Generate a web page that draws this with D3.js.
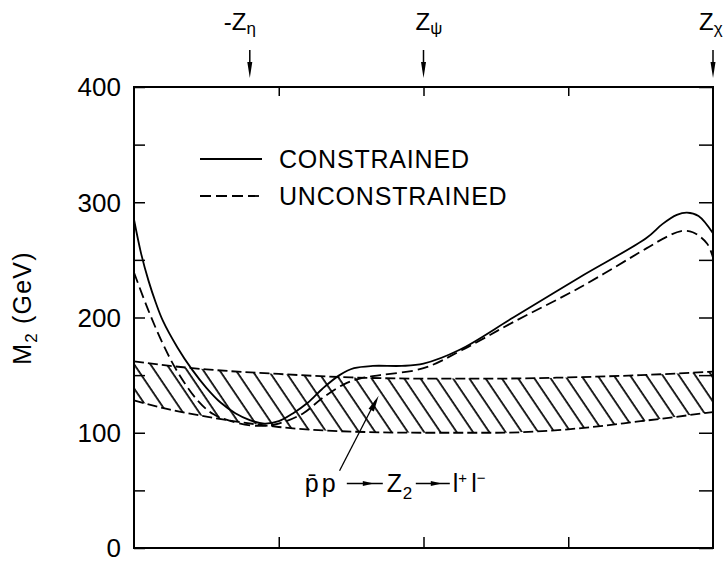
<!DOCTYPE html>
<html>
<head>
<meta charset="utf-8">
<script src="https://cdn.jsdelivr.net/npm/d3@7"></script>
<style>
  body { margin: 0; background: #fff; }
  svg text { font-family: "Liberation Sans", Arial, sans-serif; fill: #000; }
</style>
</head>
<body>
<script>
// values (x in arbitrary mixing-angle units 0..4, y in GeV)
var constrainedX = [0, 0.05, 0.1, 0.15, 0.2, 0.3, 0.4, 0.5, 0.6, 0.7, 0.8, 0.9, 1.0, 1.1, 1.2, 1.3, 1.42, 1.52, 1.65, 1.85, 2.0, 2.25, 2.62, 3.08, 3.54, 3.65, 3.75, 3.82, 3.9, 4.0];
var constrainedY = [285, 255, 232, 213, 197, 174, 155, 139, 126, 117, 111, 108, 110, 117, 126, 138, 150, 156, 158, 158, 160, 172, 200, 235, 269, 281, 289, 291, 288, 273];

var unconstrainedX = [0, 0.1, 0.2, 0.3, 0.44, 0.55, 0.7, 0.85, 1.0, 1.17, 1.3, 1.45, 1.56, 1.7, 2.0, 2.27, 2.62, 3.08, 3.54, 3.68, 3.78, 3.86, 3.96, 4.0];
var unconstrainedY = [239, 206, 177, 153, 128, 116, 109, 106, 108, 117, 130, 142, 147, 150, 156, 172, 196, 226, 260, 270, 275, 274, 264, 252];

var bandX = [0, 0.25, 0.5, 1.0, 1.5, 2.0, 2.5, 3.0, 3.5, 4.0];
var bandUpper = [162, 158, 155, 151, 148, 147, 147, 148, 150, 153];
var bandLower = [128, 120, 114, 105, 101, 100, 100, 103, 110, 118];

var yTicks = [0, 100, 200, 300, 400];
var yMinorTicks = [0, 50, 100, 150, 200, 250, 300, 350, 400];
var xTicks = [1, 2, 3];

var markerPos = [0.8, 2.0, 4.0];
var markerMain = ["-Z", "Z", "Z"];
var markerSub = ["\u03b7", "\u03c8", "\u03c7"];

var legendLabels = ["CONSTRAINED", "UNCONSTRAINED"];

var W = 723, H = 563;
var margin = {left: 134, right: 10, top: 87, bottom: 15};

var svg = d3.select("body").append("svg")
    .attr("width", W)
    .attr("height", H);

var x = d3.scaleLinear().domain([0, 4]).range([margin.left, W - margin.right]);
var y = d3.scaleLinear().domain([0, 400]).range([H - margin.bottom, margin.top]);

// hatch pattern for the band
var defs = svg.append("defs");
defs.append("pattern")
    .attr("id", "hatch")
    .attr("patternUnits", "userSpaceOnUse")
    .attr("width", 13.5)
    .attr("height", 14)
    .attr("patternTransform", "rotate(-34)")
  .append("line")
    .attr("x1", 2).attr("y1", 0)
    .attr("x2", 2).attr("y2", 14)
    .attr("stroke", "#000")
    .attr("stroke-width", 1.7);

var bandData = bandX.map(function (d, i) { return [d, bandLower[i], bandUpper[i]]; });

svg.append("path")
    .datum(bandData)
    .attr("fill", "url(#hatch)")
    .attr("d", d3.area()
        .x(function (d) { return x(d[0]); })
        .y0(function (d) { return y(d[1]); })
        .y1(function (d) { return y(d[2]); })
        .curve(d3.curveMonotoneX));

[1, 2].forEach(function (k) {
  svg.append("path")
      .datum(bandData)
      .attr("fill", "none")
      .attr("stroke", "#000")
      .attr("stroke-width", 1.8)
      .attr("stroke-dasharray", "10,4")
      .attr("d", d3.line()
          .x(function (d) { return x(d[0]); })
          .y(function (d) { return y(d[k]); })
          .curve(d3.curveMonotoneX));
});

// curves
function curvePath(xs, ys) {
  return d3.line()
      .x(function (d) { return x(d[0]); })
      .y(function (d) { return y(d[1]); })
      .curve(d3.curveCatmullRom.alpha(0.5))(xs.map(function (v, i) { return [v, ys[i]]; }));
}

svg.append("path")
    .attr("d", curvePath(constrainedX, constrainedY))
    .attr("fill", "none").attr("stroke", "#000").attr("stroke-width", 1.8);

svg.append("path")
    .attr("d", curvePath(unconstrainedX, unconstrainedY))
    .attr("fill", "none").attr("stroke", "#000").attr("stroke-width", 1.8)
    .attr("stroke-dasharray", "11,5");

// frame
svg.append("rect")
    .attr("x", x(0)).attr("y", y(400))
    .attr("width", x(4) - x(0)).attr("height", y(0) - y(400))
    .attr("fill", "none").attr("stroke", "#000").attr("stroke-width", 2);

// axes ticks (inward)
var gl = svg.append("g").attr("transform", "translate(" + x(0) + ",0)")
    .call(d3.axisRight(y).tickValues(yMinorTicks).tickSize(11).tickFormat(""));
var gr = svg.append("g").attr("transform", "translate(" + x(4) + ",0)")
    .call(d3.axisLeft(y).tickValues(yMinorTicks).tickSize(14).tickFormat(""));
var gb = svg.append("g").attr("transform", "translate(0," + y(0) + ")")
    .call(d3.axisTop(x).tickValues(xTicks).tickSize(11).tickFormat(""));
var gt = svg.append("g").attr("transform", "translate(0," + y(400) + ")")
    .call(d3.axisBottom(x).tickValues(xTicks).tickSize(9).tickFormat(""));
[gl, gr, gb, gt].forEach(function (g) {
  g.select(".domain").remove();
  g.selectAll("line").attr("stroke", "#000").attr("stroke-width", 1.5);
});

// y tick labels
svg.selectAll("text.ylab")
    .data(yTicks)
    .enter().append("text")
    .attr("class", "ylab")
    .attr("x", x(0) - 13)
    .attr("y", function (d) { return y(d); })
    .attr("dy", "0.36em")
    .attr("text-anchor", "end")
    .attr("font-size", 26)
    .text(function (d) { return d; });

// y axis title
var yt = svg.append("text")
    .attr("transform", "translate(31," + 308 + ") rotate(-90)")
    .attr("text-anchor", "middle")
    .attr("font-size", 25)
    .attr("letter-spacing", 1.2);
yt.append("tspan").text("M");
yt.append("tspan").attr("font-size", 17).attr("dy", 6).text("2");
yt.append("tspan").attr("dy", -6).text(" (GeV)");

// top markers with arrows
markerPos.forEach(function (p, i) {
  var px = x(p);
  svg.append("line")
      .attr("x1", px).attr("x2", px)
      .attr("y1", 50).attr("y2", 70)
      .attr("stroke", "#000").attr("stroke-width", 1.5);
  svg.append("path")
      .attr("d", "M" + (px - 2.5) + ",62 L" + (px + 2.5) + ",62 L" + px + ",78 Z")
      .attr("fill", "#000");
  var offs = [-26, -8, -14];
  var t = svg.append("text")
      .attr("x", px + offs[i]).attr("y", 30)
      .attr("font-size", 24);
  t.append("tspan").text(markerMain[i]);
  t.append("tspan").attr("font-size", 17).attr("dy", 4).text(markerSub[i]);
});

// legend
legendLabels.forEach(function (lab, i) {
  var ly = 159 + i * 37;
  svg.append("line")
      .attr("x1", 200).attr("x2", 262)
      .attr("y1", ly).attr("y2", ly)
      .attr("stroke", "#000").attr("stroke-width", 1.8)
      .attr("stroke-dasharray", i === 0 ? null : "11,5");
  svg.append("text")
      .attr("x", 279).attr("y", ly)
      .attr("dy", "0.36em")
      .attr("font-size", 25)
      .attr("letter-spacing", 0.8)
      .text(lab);
});

// process annotation with pointer
var ax = x(1.18), ay = y(49);
svg.append("line")
    .attr("x1", x(1.42)).attr("y1", y(67))
    .attr("x2", x(1.67)).attr("y2", y(128))
    .attr("stroke", "#000").attr("stroke-width", 1.3);
var ang = Math.atan2(y(132) - y(67), x(1.69) - x(1.42));
svg.append("path")
    .attr("transform", "translate(" + x(1.69) + "," + y(132) + ") rotate(" + (ang * 180 / Math.PI) + ")")
    .attr("d", "M0,0 L-16,-3 L-16,3 Z")
    .attr("fill", "#000");

var at = svg.append("text").attr("x", ax).attr("y", ay).attr("font-size", 25).attr("letter-spacing", 3);
at.append("tspan").text("p\u0304p");
svg.append("text").attr("x", ax + 82).attr("y", ay).attr("font-size", 25).text("Z");
svg.append("text").attr("x", ax + 98).attr("y", ay + 7).attr("font-size", 17).text("2");
var lt = svg.append("text").attr("x", ax + 148).attr("y", ay).attr("font-size", 25);
lt.append("tspan").text("l");
lt.append("tspan").attr("font-size", 15).attr("dy", -9).text("+");
lt.append("tspan").attr("dy", 9).attr("dx", 4).text("l");
lt.append("tspan").attr("font-size", 15).attr("dy", -9).text("\u2212");

[[ax + 42, ax + 78], [ax + 111, ax + 145]].forEach(function (s) {
  svg.append("line")
      .attr("x1", s[0]).attr("x2", s[1])
      .attr("y1", ay - 8).attr("y2", ay - 8)
      .attr("stroke", "#000").attr("stroke-width", 1.5);
  var m = (s[0] + s[1]) / 2 + 4;
  svg.append("path")
      .attr("d", "M" + (m + 5) + "," + (ay - 8) + " L" + (m - 6) + "," + (ay - 10.5) + " L" + (m - 6) + "," + (ay - 5.5) + " Z")
      .attr("fill", "#000");
});
</script>
</body>
</html>
